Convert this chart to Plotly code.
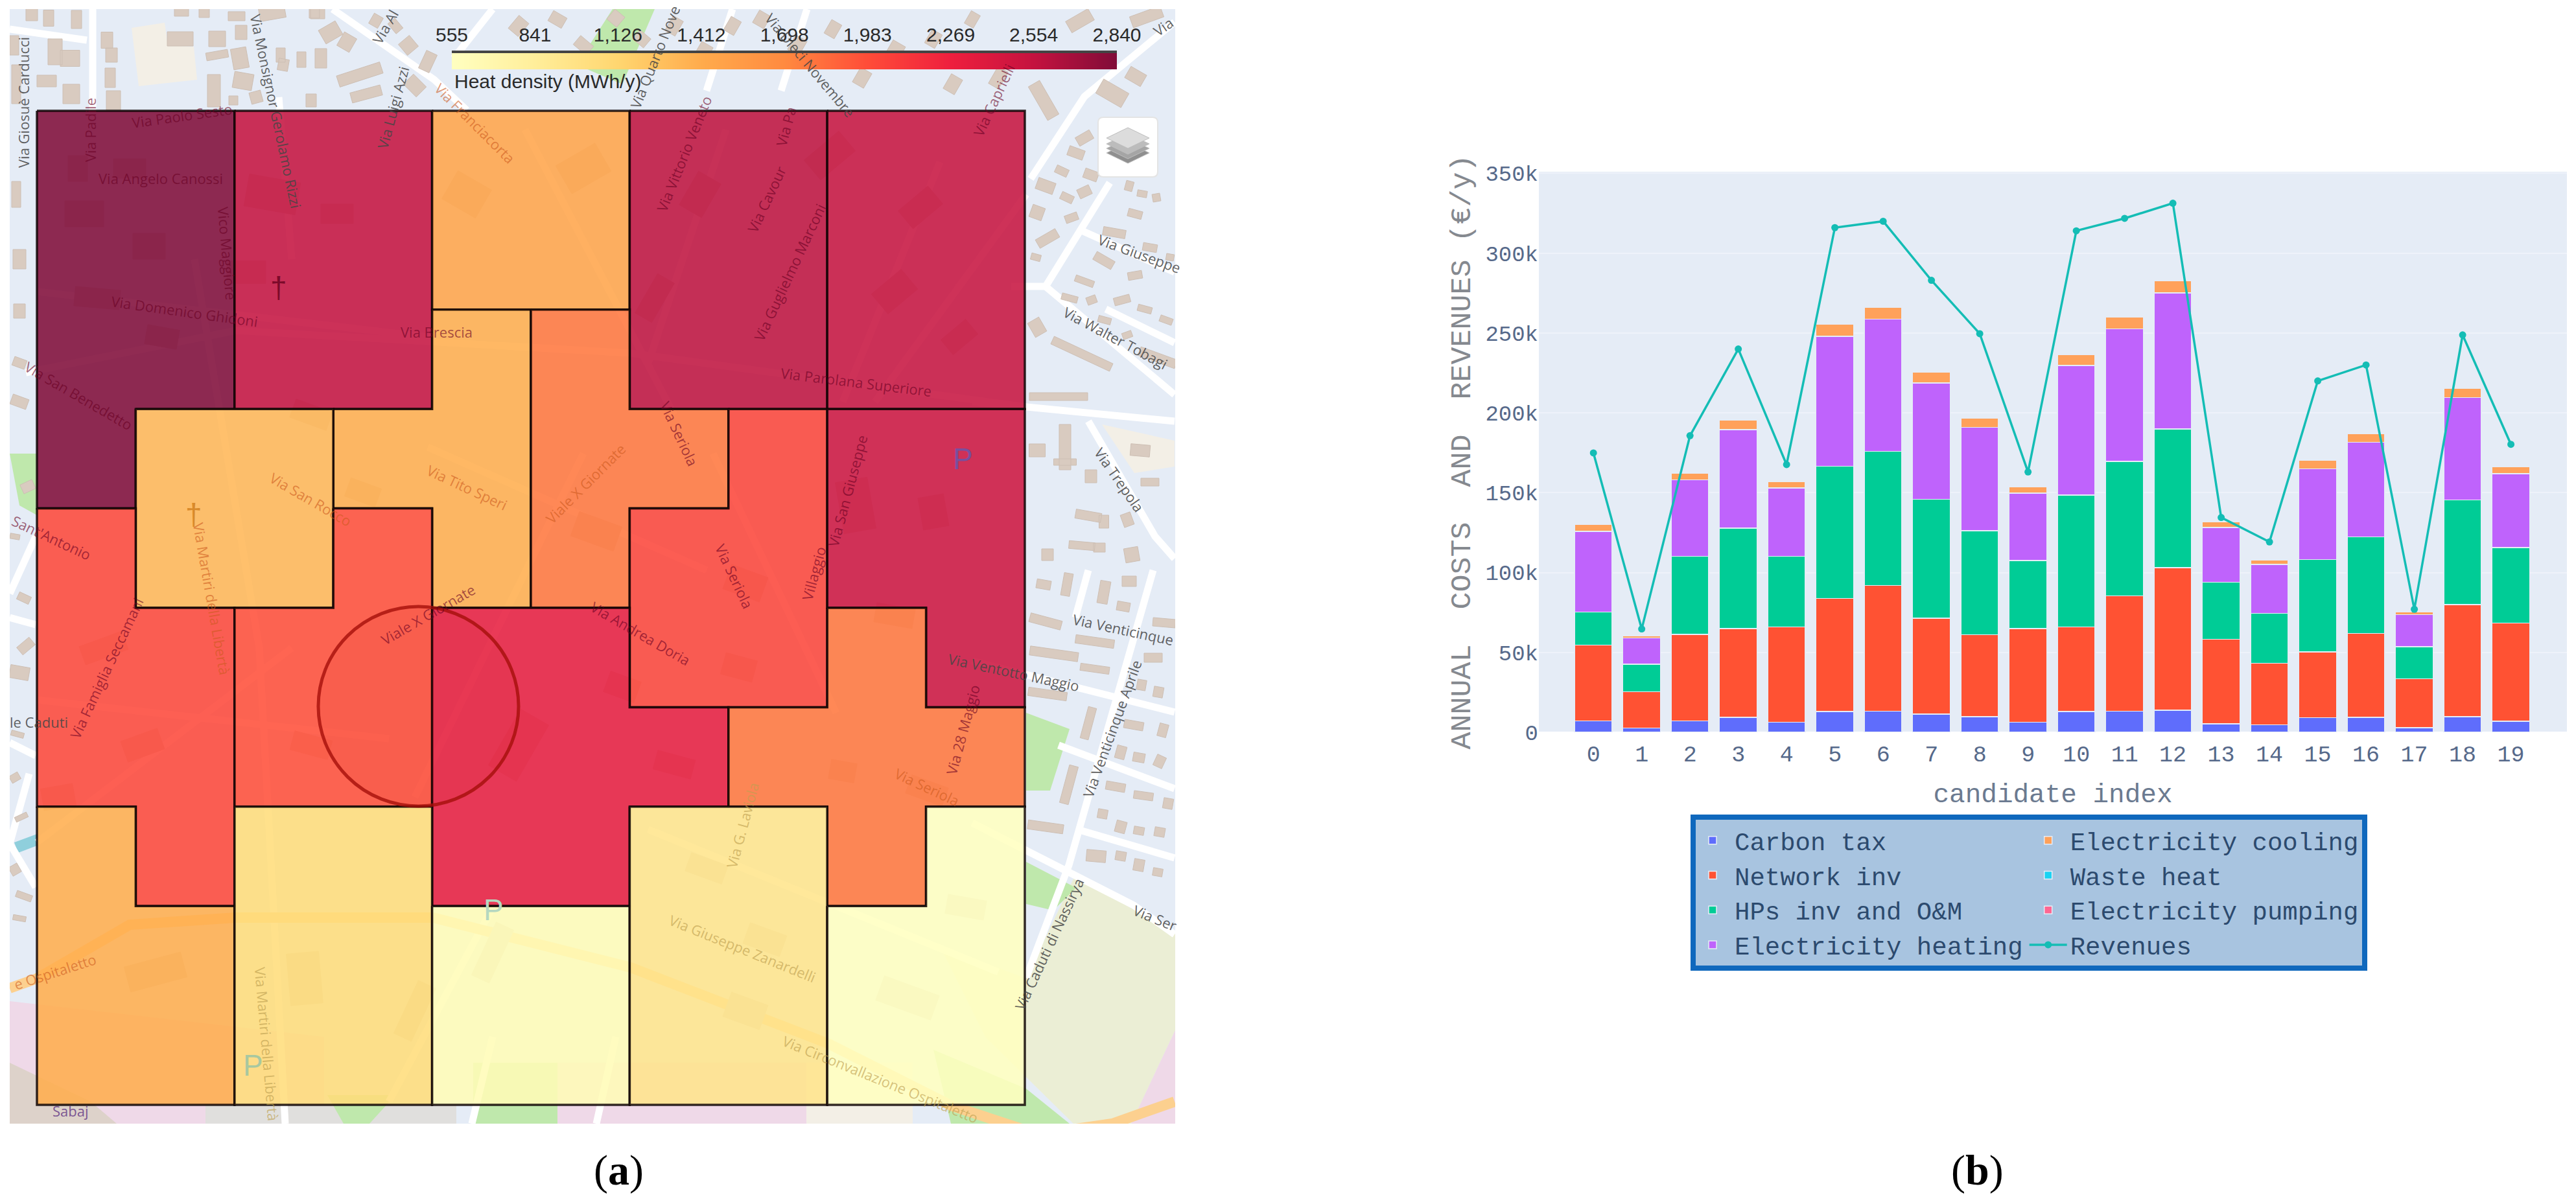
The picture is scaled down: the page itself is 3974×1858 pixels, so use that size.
import math
import plotly.graph_objects as go
from plotly.colors import sample_colorscale

W, H = 3974, 1858

# ---------- panel (b) data ----------
candidates = list(range(20))
carbon_tax = [7200,2600,7200,9300,6200,12900,13200,11400,9800,6200,12900,13200,13700,5200,4700,9100,9300,2800,9800,7000]
network_inv = [47400,22700,54100,55600,59800,70900,78800,60000,51200,58700,53100,72200,89300,53000,38500,41300,52500,30600,70100,61300]
hps_inv = [20700,17400,48900,62900,44200,82800,83900,74500,65200,42700,82500,84300,86900,35700,31300,57700,60500,20100,65500,47300]
elec_heating = [50400,16300,47800,61800,42800,81400,82800,72900,64700,42200,81200,83000,85300,34400,30500,56900,59300,20200,64100,46300]
elec_cooling = [4300,1500,4400,5700,4000,7600,7300,6700,5700,3800,6700,7500,7500,3400,2900,5200,5200,1600,5700,4400]
waste_heat = [0]*20
elec_pumping = [0]*20
revenues = [174900,64700,185700,240000,167600,316000,320000,283000,249600,163000,314000,321800,331300,134500,119200,220000,230000,77000,248800,180300]

# ---------- panel (a) data: heat density per cell, outlines in half-cell units ----------
cell_heat = [2840,2554,1469,2577,2532,1400,1789,1332,2029,2497,2017,1972,2314,1789,1400,1058,620,943,555]
cell_outlines = [
    [(0,0),(2,0),(2,3),(1,3),(1,4),(0,4)],
    [(2,0),(4,0),(4,3),(2,3)],
    [(4,0),(6,0),(6,2),(4,2)],
    [(6,0),(8,0),(8,3),(6,3)],
    [(8,0),(10,0),(10,3),(8,3)],
    [(3,3),(4,3),(4,2),(5,2),(5,5),(4,5),(4,4),(3,4)],
    [(5,2),(6,2),(6,3),(7,3),(7,4),(6,4),(6,5),(5,5)],
    [(1,3),(3,3),(3,5),(1,5)],
    [(7,3),(8,3),(8,6),(6,6),(6,4),(7,4)],
    [(8,3),(10,3),(10,6),(9,6),(9,5),(8,5)],
    [(0,4),(1,4),(1,5),(2,5),(2,8),(1,8),(1,7),(0,7)],
    [(3,4),(4,4),(4,7),(2,7),(2,5),(3,5)],
    [(4,5),(6,5),(6,6),(7,6),(7,7),(6,7),(6,8),(4,8)],
    [(8,5),(9,5),(9,6),(10,6),(10,7),(9,7),(9,8),(8,8),(8,7),(7,7),(7,6),(8,6)],
    [(0,7),(1,7),(1,8),(2,8),(2,10),(0,10)],
    [(2,7),(4,7),(4,10),(2,10)],
    [(4,8),(6,8),(6,10),(4,10)],
    [(6,7),(8,7),(8,10),(6,10)],
    [(8,8),(9,8),(9,7),(10,7),(10,10),(8,10)],
]
heat_ticks = [555,841,1126,1412,1698,1983,2269,2554,2840]
heat_labels = ["555","841","1,126","1,412","1,698","1,983","2,269","2,554","2,840"]
heat_scale = ["#ffffc0","#ffee9a","#ffd670","#ffab4c","#ff8a40","#ff4c38","#ee1f3e","#c4123f","#800c38"]

# ---------- base-map sketch (map pixels) ----------
map_zones = [
    ("#ebeed5", [(1658,1352),(1813,1440),(1813,1590),(1745,1734),(1656,1734),(1520,1600),(1450,1460),(1583,1510)]),
    ("#efd9e8", [(1813,1590),(1745,1734),(1813,1734)]),
    ("#bfe8ac", [(1440,1620),(1583,1680),(1650,1734),(1467,1734)]),
    ("#bfe8ac", [(1583,1100),(1650,1125),(1620,1220),(1583,1220)]),
    ("#bfe8ac", [(1583,1330),(1660,1370),(1625,1405),(1583,1395)]),
    ("#efd9e8", [(15,1545),(500,1600),(500,1734),(15,1734)]),
    ("#ddd2ca", [(15,1640),(140,1700),(180,1734),(15,1734)]),
    ("#e0dfdd", [(317,1705),(704,1705),(704,1734),(317,1734)]),
    ("#bfe8ac", [(505,1690),(610,1690),(570,1734),(530,1734)]),
    ("#bfe8ac", [(730,1640),(860,1640),(860,1734),(730,1734)]),
    ("#efd9e8", [(860,1640),(1244,1640),(1244,1734),(860,1734)]),
    ("#f3efe6", [(1244,1640),(1408,1640),(1408,1734),(1244,1734)]),
    ("#f3efe6", [(203,43),(254,35),(259,70),(299,72),(304,123),(214,133)]),
    ("#f3efe6", [(1700,655),(1812,680),(1812,720),(1750,730)]),
    ("#bfe8ac", [(15,700),(57,700),(57,795),(30,780)]),
    ("#bfe8ac", [(945,14),(1010,14),(960,130),(890,100)]),
    ("#8fcfdc", [(22,1300),(57,1287),(57,1305),(28,1316)]),
]
main_roads = [
    [(513,14),(670,123),(720,170)],
    [(143,14),(143,170)],
    [(15,45),(134,62)],
    [(1812,34),(1673,149),(1590,276)],
    [(1712,282),(1613,442),(1812,609)],
    [(1613,442),(1560,442)],
    [(1669,356),(1812,420)],
    [(1706,477),(1812,529)],
    [(1500,620),(1812,650)],
    [(1679,650),(1782,828),(1812,862)],
    [(1779,880),(1649,1335),(1583,1509)],
    [(1500,1020),(1812,1099)],
    [(1633,1150),(1812,1217)],
    [(1669,1282),(1812,1324)],
    [(1500,1270),(1749,1397),(1812,1442)],
    [(1679,880),(1659,953)],
    [(15,916),(55,828)],
    [(15,953),(55,964)],
    [(15,1146),(55,1166)],
    [(45,1194),(15,1302)],
    [(15,1302),(55,1369)],
    [(728,1734),(760,1600)],
    [(920,1734),(950,1600)],
    [(760,14),(700,90)],
    [(1245,14),(1205,140)],
    [(1130,14),(1090,140)],
    [(40,575),(364,510),(973,545),(1583,628)],
    [(58,450),(668,521)],
    [(300,400),(400,1000),(440,1734)],
    [(430,150),(450,400)],
    [(640,1230),(900,700)],
    [(810,200),(1040,640)],
    [(1120,200),(1000,560)],
    [(1450,250),(1300,620)],
    [(1583,300),(1350,620)],
    [(660,690),(1090,880)],
    [(1100,700),(1290,1100)],
    [(57,1080),(600,1140)],
    [(57,1300),(450,1000)],
    [(1000,1280),(1540,1500)],
    [(760,1400),(600,1700)],
]
ring_road = [(15,1525),(57,1510),(200,1427),(364,1416),(668,1416),(973,1493),(1279,1611),(1467,1706),(1576,1742)]
ring_road_east = [(1660,1742),(1716,1734),(1812,1700)]
buildings = [
    (49,22,18,20,0),(75,28,16,25,0),(118,30,16,28,0),(85,80,22,40,0),(108,90,30,25,0),(72,125,30,18,0),(110,145,26,30,0),
    (165,62,18,25,0),(172,85,18,22,0),(170,120,16,30,0),(175,155,22,30,0),(22,70,14,30,0),(25,130,14,60,0),
    (280,18,22,14,0),(315,20,16,14,0),(365,25,26,14,0),(420,20,40,20,-10),(485,20,16,16,0),
    (278,60,40,22,0),(335,60,26,24,0),(335,85,34,12,-10),(372,50,18,22,0),(370,90,24,32,-10),(375,125,30,25,10),
    (330,140,20,50,0),(360,155,14,14,0),(395,150,18,18,-15),(433,85,14,22,0),(437,100,16,18,10),(465,92,14,24,0),(495,90,18,30,0),
    (490,20,22,18,0),(510,50,30,24,-30),(535,65,22,24,30),(480,155,16,20,0),(555,115,70,18,-18),(565,145,48,16,-15),
    (610,40,20,14,50),(580,32,16,18,30),(630,70,22,22,50),(660,95,18,30,25),(640,132,28,22,45),
    (800,40,20,26,40),(860,30,24,18,30),(900,70,26,18,40),(950,28,20,20,40),(990,60,22,18,40),
    (1040,40,26,18,-60),(1085,80,26,20,-60),(1130,40,24,18,-60),(1175,30,22,20,-60),(1230,70,26,20,-60),(1285,45,24,18,-60),
    (1330,120,26,20,-60),(1380,80,30,22,-60),(1440,60,24,18,-60),(1500,30,22,16,-60),(1540,120,30,18,-60),(1470,130,26,20,-60),
    (1666,32,40,20,-30),(1769,26,50,18,-20),(1752,118,28,20,30),(1716,144,45,25,30),(1610,155,20,60,-30),
    (1673,213,25,15,-30),(1660,236,25,15,20),(1638,264,20,12,25),(1613,287,28,18,20),(1600,328,20,20,20),(1646,305,20,12,25),
    (1673,296,20,15,-25),(1683,270,22,15,20),(1653,336,20,12,-20),(1616,368,35,15,-30),(1598,397,15,10,15),(1742,287,12,15,15),
    (1762,299,15,10,10),(1784,305,12,12,-10),(1751,330,22,12,15),(1719,359,35,13,10),(1703,402,32,14,30),(1673,434,30,10,20),
    (1751,425,22,12,-10),(1774,382,22,12,10),(1805,397,12,10,10),(1650,460,25,10,15),(1684,463,15,12,-20),(1731,463,25,12,-15),
    (1766,477,22,10,15),(1799,494,20,10,20),(1704,494,20,10,15),(1739,517,15,10,-20),(1669,546,100,13,25),(1786,552,60,14,20),
    (1633,612,90,12,0),(1600,505,20,25,-30),(1600,695,25,20,0),(1643,690,18,70,0),(1643,713,35,10,0),(1683,735,18,20,0),
    (1759,695,30,18,5),(1774,744,28,12,0),(1679,796,40,14,10),(1703,805,15,20,0),(1739,802,16,20,-20),(1669,842,40,12,5),
    (1696,845,18,14,0),(1746,856,22,22,-10),(1616,856,18,18,0),(1610,902,22,14,10),(1646,902,14,35,10),(1703,914,16,35,10),
    (1742,897,22,16,0),(1733,936,20,14,10),(1613,959,50,14,15),(1796,961,35,13,5),(1689,990,60,13,8),(1626,1009,75,14,8),
    (1779,1015,28,14,0),(1689,1032,45,11,8),(1616,1071,60,13,8),(1761,1057,14,16,10),(1787,1068,15,16,10),(1679,1116,13,50,15),
    (1749,1119,30,13,10),(1794,1127,14,20,15),(1729,1161,15,20,15),(1757,1169,18,14,10),(1789,1175,15,18,25),(1649,1211,14,60,15),
    (1721,1214,30,13,10),(1764,1228,30,12,8),(1802,1240,15,16,10),(1701,1256,15,14,10),(1729,1276,16,18,15),(1757,1282,16,12,10),
    (1789,1284,16,14,10),(1613,1276,55,14,8),(1691,1321,30,18,5),(1729,1321,16,14,10),(1757,1335,16,18,10),(1786,1346,15,12,10),
    (43,751,20,15,-25),(23,828,15,8,10),(37,923,20,12,25),(40,997,25,15,-40),(30,1038,30,20,10),(27,1133,20,8,15),(23,1200,15,12,-30),
    (33,1261,20,8,-25),(23,1342,15,15,-30),(37,1383,25,10,20),(30,1417,20,8,10),(30,560,20,14,20),(30,620,26,16,20),(30,400,20,30,0),
    (30,480,18,22,0),(25,300,14,40,0),
    (130,330,60,40,0),(200,260,50,30,0),(120,260,30,40,0),(230,380,50,40,0),(150,460,70,30,5),(250,520,50,30,10),(420,300,80,50,10),(520,330,50,30,0),
    (380,420,60,35,0),(480,640,60,30,20),(560,760,50,30,20),(720,300,60,50,30),(900,260,70,50,-30),(1080,300,60,40,-60),(1010,460,70,30,-60),
    (1280,240,70,40,-40),(1420,320,60,36,-40),(1380,450,60,40,-40),(1480,520,50,30,-40),(1320,780,50,80,-10),(1440,790,40,50,-10),(1380,950,60,30,10),
    (160,1000,70,30,-20),(220,1150,60,34,-20),(90,1230,50,34,-10),(480,1150,60,30,15),(800,1150,50,100,30),(960,1060,50,34,20),(1040,1180,60,30,15),
    (920,820,70,40,20),(1150,900,60,40,20),(1140,1030,50,34,15),(1430,1220,60,30,20),(1300,1190,40,30,10),(1090,1340,60,30,20),(1180,1450,60,34,20),
    (470,1510,50,80,-5),(760,1470,30,90,25),(1400,1540,90,40,20),(1490,1400,60,30,10),(240,1500,90,40,-15),(640,1560,30,90,25),(1150,1560,60,40,20),
]
# text, x, y, angle, colour key
map_labels = [
    ("Via Giosuè Carducci",36,158,-90,"g"),("Via Padile",139,201,-90,"r"),("Via Paolo Sesto",281,178,-8,"r"),
    ("Via Monsignor Gerolamo Rizzi",426,172,78,"g"),("Via Luigi Azzi",606,166,-75,"g"),("Via Angelo Canossi",248,275,0,"r"),
    ("Vico Maggiore",351,391,85,"r"),("Via Domenico Ghidoni",285,480,8,"r"),("Via Brescia",673,512,0,"r"),
    ("Via Franciacorta",733,190,45,"o"),("Via Quarto Nove",1010,88,-68,"g"),("Via Dieci Novembre",1250,100,50,"g"),("Via Al",594,41,-60,"g"),
    ("Via Vittorio Veneto",1055,237,-68,"r"),("Via Cavour",1182,308,-65,"r"),("Via Guglielmo Marconi",1218,420,-65,"r"),
    ("Via Pa",1212,195,-75,"r"),("Via Caprielli",1533,154,-65,"r"),("Via Parolana Superiore",1321,589,7,"r"),
    ("Via San Benedetto",121,610,30,"r"),("Via San Rocco",479,770,30,"o"),("Via Tito Speri",721,752,25,"o"),
    ("Viale X Giornate",903,746,-45,"o"),("Via Seriola",1048,669,65,"r"),("Via Seriola",1133,889,65,"r"),("Via Seriola",1430,1214,25,"o"),
    ("Via San Giuseppe",1307,758,-75,"r"),("Villaggio",1255,885,-75,"r"),("Via Martiri della Libertà",327,924,80,"o"),
    ("Via Famiglia Seccamani",164,1031,-65,"r"),("Viale X Giornate",660,948,-30,"r"),("Via Andrea Doria",988,977,30,"r"),
    ("le Caduti",60,1114,0,"g"),("Sant'Antonio",79,829,25,"r"),("Via Giuseppe Zanardelli",1145,1463,22,"y"),
    ("Via G. Laviola",1145,1274,-75,"y"),("Via Ventotto Maggio",1564,1037,12,"g"),("Via 28 Maggio",1485,1126,-75,"r"),
    ("Via Circonvallazione Ospitaletto",1358,1665,22,"y"),("e Ospitaletto",85,1499,-18,"o"),("Via Martiri della Libertà",412,1611,85,"y"),
    ("Via Caduti di Nassirya",1618,1457,-65,"g"),("Via Giuseppe",1758,391,20,"g"),("Via Walter Tobagi",1721,521,28,"g"),
    ("Via Trepola",1727,740,55,"g"),("Via Venticinque",1733,971,12,"g"),("Via Venticinque Aprile",1715,1125,-70,"g"),
    ("Via Ser",1782,1416,22,"g"),("Via",1794,41,-35,"g"),("Sabaj",109,1714,0,"p"),
]
map_symbols = [("P",1485,708,"#7a4f9e"),("P",390,1644,"#a8c8a0"),("P",761,1404,"#b5d8c0"),("†",430,444,"#7c0a2a"),("†",299,794,"#d98a2a")]

# ---------- layout constants ----------
GX0, GY0, GSX, GSY = 57, 171, 152.4, 153.4
MAP_X = [15, 1813]
MAP_Y = [1734, 14]
BAR_X = [2374, 3960]
BAR_Y = [1130, 265]
SCALE_X = [697, 1723]
SCALE_Y = [107, 82]

fig = go.Figure()

def add_poly(points, color):
    fig.add_trace(go.Scatter(x=[p[0] for p in points]+[points[0][0]], y=[p[1] for p in points]+[points[0][1]],
                             mode="lines", line=dict(width=0), fill="toself", fillcolor=color,
                             showlegend=False, hoverinfo="skip", xaxis="x", yaxis="y"))

for col, pts in map_zones:
    add_poly(pts, col)

def add_lines(paths, color, width):
    xs, ys = [], []
    for p in paths:
        xs += [q[0] for q in p] + [None]
        ys += [q[1] for q in p] + [None]
    fig.add_trace(go.Scatter(x=xs, y=ys, mode="lines", line=dict(color=color, width=width), showlegend=False,
                             hoverinfo="skip", xaxis="x", yaxis="y"))

add_lines(main_roads, "#ffffff", 11)
add_lines([ring_road, ring_road_east], "#fcd08f", 16)

def add_buildings(items, fill, edge):
    bx, by = [], []
    for cx, cy, w, h, a in items:
        c, s = math.cos(math.radians(a)), math.sin(math.radians(a))
        for dx, dy in [(-w/2,-h/2),(w/2,-h/2),(w/2,h/2),(-w/2,h/2),(-w/2,-h/2)]:
            bx.append(cx+dx*c-dy*s)
            by.append(cy+dx*s+dy*c)
        bx.append(None); by.append(None)
    fig.add_trace(go.Scatter(x=bx, y=by, mode="lines", line=dict(width=1, color=edge), fill="toself", fillcolor=fill,
                             showlegend=False, hoverinfo="skip", xaxis="x", yaxis="y"))

def covered(b):
    return GX0 < b[0] < GX0+10*GSX and GY0 < b[1] < GY0+10*GSY

add_buildings([b for b in buildings if not covered(b)], "#d9cbc0", "#cdbfb4")
add_buildings([b for b in buildings if covered(b)], "#d8cfc8", "#d8cfc8")

# heat-density cells
stops = [[i/(len(heat_scale)-1), c] for i, c in enumerate(heat_scale)]
for heat, outline in zip(cell_heat, cell_outlines):
    t = (heat-heat_ticks[0])/(heat_ticks[-1]-heat_ticks[0])
    rgb = sample_colorscale(stops, [t], colortype="rgb")[0]
    fill = rgb.replace("rgb(", "rgba(").replace(")", ",0.87)")
    xs = [GX0+GSX*p[0] for p in outline]+[GX0+GSX*outline[0][0]]
    ys = [GY0+GSY*p[1] for p in outline]+[GY0+GSY*outline[0][1]]
    fig.add_trace(go.Scatter(x=xs, y=ys, mode="lines", fill="toself", fillcolor=fill,
                             line=dict(color="rgba(15,5,5,0.85)", width=3.5), showlegend=False, name="Heat density",
                             hovertemplate=f"{heat} MWh/y<extra></extra>", xaxis="x", yaxis="y"))

# colour scale strip with its tick labels on top
fig.add_trace(go.Heatmap(x=heat_ticks, y=[0, 1], z=[heat_ticks, heat_ticks], coloraxis="coloraxis", zsmooth="best",
                         hoverinfo="skip", xaxis="x3", yaxis="y3"))

# ---------- panel (b) ----------
bar_series = [("Carbon tax", carbon_tax, "#5F6DFC"), ("Network inv", network_inv, "#FF5233"), ("HPs inv and O&M", hps_inv, "#00CC96"),
              ("Electricity heating", elec_heating, "#BF63FC"), ("Electricity cooling", elec_cooling, "#FFA15A"),
              ("Waste heat", waste_heat, "#19D3F3"), ("Electricity pumping", elec_pumping, "#FF6692")]
for i, (name, vals, col) in enumerate(bar_series):
    fig.add_trace(go.Bar(x=candidates, y=vals, name=name, marker=dict(color=col, line=dict(color="#E5ECF6", width=1.5)),
                         legendgroup="col1" if i < 4 else "col2", xaxis="x2", yaxis="y2"))
fig.add_trace(go.Scatter(x=candidates, y=revenues, name="Revenues", mode="lines+markers", legendgroup="col2",
                         line=dict(color="#14BDB5", width=3.5), marker=dict(size=11, color="#14BDB5"), xaxis="x2", yaxis="y2"))

MONO = "Liberation Mono"
TICK = "#56698A"
fig.update_layout(
    width=W, height=H, margin=dict(l=0, r=0, t=0, b=0, autoexpand=False), paper_bgcolor="#ffffff", plot_bgcolor="#E5ECF6",
    barmode="stack", bargap=0.22, font=dict(family=MONO),
    xaxis=dict(domain=[MAP_X[0]/W, MAP_X[1]/W], range=MAP_X, visible=False),
    yaxis=dict(domain=[1-MAP_Y[0]/H, 1-MAP_Y[1]/H], range=MAP_Y, visible=False),
    xaxis2=dict(domain=[BAR_X[0]/W, BAR_X[1]/W], range=[-1.13, 20.16], anchor="y2", tickmode="array", tickvals=candidates,
                ticktext=[str(c) for c in candidates], tickangle=0, showgrid=False, zeroline=False, ticks="", ticklabelstandoff=9,
                tickfont=dict(size=35, color=TICK, family=MONO),
                title=dict(text="candidate index", font=dict(size=41, color="#6B7A90", family=MONO), standoff=24)),
    yaxis2=dict(domain=[1-BAR_Y[0]/H, 1-BAR_Y[1]/H], range=[0, 351000], anchor="x2", dtick=50000, tickformat="~s",
                gridcolor="#EEF2FA", gridwidth=2, zeroline=True, zerolinecolor="#FFFFFF", ticks="",
                tickfont=dict(size=34, color=TICK, family=MONO),
                title=dict(text="ANNUAL\u00a0\u00a0COSTS\u00a0\u00a0AND\u00a0\u00a0REVENUES\u00a0(€/y)",
                           font=dict(size=45, color="#85898F", family=MONO), standoff=8)),
    xaxis3=dict(domain=[SCALE_X[0]/W, SCALE_X[1]/W], range=[heat_ticks[0], heat_ticks[-1]], anchor="y3", side="top",
                tickmode="array", tickvals=heat_ticks, ticktext=heat_labels, tickangle=0, ticks="", showgrid=False, zeroline=False,
                showline=True, linecolor="#444444", linewidth=4, ticklabelstandoff=2,
                tickfont=dict(size=30, color="#2a2a2a", family="Liberation Sans")),
    yaxis3=dict(domain=[1-SCALE_Y[0]/H, 1-SCALE_Y[1]/H], range=[0, 1], anchor="x3", visible=False),
    legend=dict(x=2608/W, y=1-1257/H, xanchor="left", yanchor="top", orientation="h", traceorder="grouped", tracegroupgap=0,
                itemwidth=58, bgcolor="#A8C4E0", bordercolor="#0F68BD", borderwidth=8, font=dict(size=39, color="#2C4A6E", family=MONO)),
    coloraxis=dict(colorscale=stops, cmin=heat_ticks[0], cmax=heat_ticks[-1], showscale=False),
    showlegend=True,
)

label_cols = {"g": "rgba(70,70,70,0.85)", "r": "rgba(105,0,35,0.6)", "o": "rgba(205,90,30,0.6)", "y": "rgba(190,160,80,0.65)", "p": "rgba(110,70,140,0.9)"}
ann = []
for text, x, y, a, c in map_labels:
    ann.append(dict(text=text, x=x, y=y, xref="x", yref="y", textangle=a, showarrow=False,
                    font=dict(size=22, color=label_cols[c], family="Open Sans")))
for text, x, y, col in map_symbols:
    ann.append(dict(text=text, x=x, y=y, xref="x", yref="y", showarrow=False, font=dict(size=46, color=col, family="Liberation Sans")))
ann.append(dict(text="Heat density (MWh/y)", x=699/W, y=1-125/H, xref="paper", yref="paper", xanchor="left", yanchor="middle", showarrow=False,
                font=dict(size=30, color="#2a2a2a", family="Liberation Sans")))
ann.append(dict(text="(<b>a</b>)", x=914/W, y=1-1806/H, xref="paper", yref="paper", yanchor="middle", showarrow=False,
                font=dict(size=66, color="#000000", family="Liberation Serif")))
ann.append(dict(text="(<b>b</b>)", x=3093/W, y=1-1806/H, xref="paper", yref="paper", yanchor="middle", showarrow=False,
                font=dict(size=66, color="#000000", family="Liberation Serif")))
fig.update_layout(annotations=ann)

def layer(cy, col):
    return dict(type="path", xref="x", yref="y", path=f"M1707,{cy} L1740,{cy-16} L1773,{cy} L1740,{cy+16} Z",
                fillcolor=col, line=dict(color="#bdbdbd", width=1))

fig.update_layout(shapes=[
    dict(type="circle", xref="x", yref="y", x0=491, x1=800, y0=936, y1=1244, fillcolor="rgba(200,20,20,0.05)",
         line=dict(color="rgba(165,15,10,0.8)", width=5)),
    dict(type="path", xref="x", yref="y", path="M1702,181 H1778 Q1786,181 1786,189 V265 Q1786,273 1778,273 H1702 Q1694,273 1694,265 V189 Q1694,181 1702,181 Z",
         fillcolor="#ffffff", line=dict(color="#e4e4e4", width=2)),
    layer(236, "#8f8f8f"), layer(229, "#a5a5a5"), layer(222, "#bcbcbc"), layer(213, "#dcdcdc"),
])

fig.write_html("out.html", config={"displayModeBar": False},
               post_script="document.body.style.margin='0';document.body.style.overflow='hidden';")
